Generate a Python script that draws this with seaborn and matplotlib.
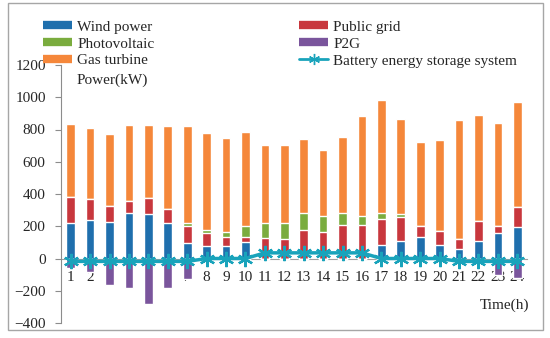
import numpy as np
import matplotlib
matplotlib.use("Agg")
import matplotlib.pyplot as plt
from matplotlib.lines import Line2D
from matplotlib.patches import Rectangle
import seaborn as sns

sns.set_style("white")
plt.rcParams["font.family"] = ["Liberation Serif", "DejaVu Serif"]
plt.rcParams["font.size"] = 11

# hourly dispatch (kW)
hours = [str(h) for h in range(1, 25)]
wind = [220, 237, 225, 283, 277, 220, 96, 75, 75, 100, 0, 0,
        0, 0, 0, 0, 85, 110, 133, 85, 58, 106, 157, 196]
grid = [160, 134, 102, 75, 98, 84, 104, 83, 58, 31, 128, 118,
        174, 163, 205, 206, 157, 146, 67, 88, 63, 125, 43, 126]
pv = [0, 0, 0, 0, 0, 6, 19, 17, 31, 69, 92, 104,
      110, 98, 79, 56, 41, 17, 0, 0, 0, 0, 0, 0]
gas = [454, 439, 448, 470, 453, 512, 603, 605, 584, 587, 483, 481,
       458, 414, 468, 621, 697, 593, 525, 564, 739, 662, 638, 646]
p2g = [-60, -86, -165, -181, -283, -181, -129, 0, 0, 0, 0, 0,
       0, 0, 0, 0, 0, 0, 0, 0, 0, 0, -100, -118]
bess = [-18, -18, -18, -18, -18, -18, -18, 0, 0, 0, 35, 35,
        35, 35, 35, 35, 0, 0, 0, 0, -18, -18, -18, -18]

c_wind = "#1f6fad"
c_grid = "#c8373d"
c_pv = "#7aac3e"
c_gas = "#f5873a"
c_p2g = "#7a559c"
c_bess = "#19a3bb"

fig = plt.figure(figsize=(5.5, 3.38), dpi=100)
ax = fig.add_axes([61 / 550, 1 - 323 / 338, (527 - 61) / 550, (323 - 65) / 338])

# stacked bars: draw cumulative tops from the largest down
s1 = np.array(wind)
s2 = s1 + np.array(grid)
s3 = s2 + np.array(pv)
s4 = s3 + np.array(gas)
bw = 0.45
for tops, col in [(s4, c_gas), (s3, c_pv), (s2, c_grid), (s1, c_wind)]:
    sns.barplot(x=hours, y=tops, color=col, width=bw, saturation=1,
                errorbar=None, ax=ax, zorder=2)
sns.barplot(x=hours, y=p2g, color=c_p2g, width=bw, saturation=1,
            errorbar=None, ax=ax, zorder=2)

sns.lineplot(x=np.arange(24), y=bess, color=c_bess, lw=2.5,
             marker=(6, 2, 0), markersize=11, mec=c_bess, mew=1.6,
             ax=ax, zorder=4)

ax.set_xlim(-0.5, 23.5)
ax.set_ylim(-400, 1200)
ax.set_yticks(range(-400, 1201, 200))
ax.set_xlabel("")
ax.set_ylabel("")

for s in ["top", "right"]:
    ax.spines[s].set_visible(False)
ax.spines["bottom"].set_position(("data", 0))
ax.spines["bottom"].set_color("#a0a0a0")
ax.spines["left"].set_color("#8c8c8c")
ax.spines["bottom"].set_zorder(1)

ax.tick_params(axis="x", which="major", length=0, pad=9, labelsize=11)
ax.set_xticks(np.arange(-0.5, 24, 1), minor=True)
ax.tick_params(axis="x", which="minor", length=4, direction="out",
               color="#a0a0a0", width=0.8)
ax.tick_params(axis="y", length=4, direction="out", color="#8c8c8c",
               width=0.8, pad=7, labelsize=11, left=True)

fig.text(77 / 550, 1 - 80 / 338, "Power(kW)", ha="left", va="center", fontsize=11)
fig.text(480 / 550, 1 - 305 / 338, "Time(h)", ha="left", va="center", fontsize=11)

def bar_handle(c):
    return Line2D([], [], color=c, lw=6, solid_capstyle="butt")

h1 = [bar_handle(c_wind), bar_handle(c_pv), bar_handle(c_gas)]
l1 = ["Wind power", "Photovoltaic", "Gas turbine"]
h2 = [bar_handle(c_grid), bar_handle(c_p2g),
      Line2D([], [], color=c_bess, lw=2, marker=(6, 2, 0), markersize=8, mec=c_bess)]
l2 = ["Public grid", "P2G", "Battery energy storage system"]
leg_kw = dict(loc="upper left", frameon=False, borderpad=0, borderaxespad=0,
              handlelength=1.9, handletextpad=0.33, labelspacing=0.21, fontsize=11)
fig.legend(h1, l1, bbox_to_anchor=(43 / 550, 1 - 20 / 338), **leg_kw)
fig.legend(h2, l2, bbox_to_anchor=(299 / 550, 1 - 20 / 338), **leg_kw)

fig.patches.append(Rectangle((8 / 550, 1 - 330 / 338), (543 - 8) / 550, (330 - 3) / 338,
                             transform=fig.transFigure, fill=False,
                             edgecolor="#a6a6a6", lw=1))

fig.savefig("out.png", dpi=100)
